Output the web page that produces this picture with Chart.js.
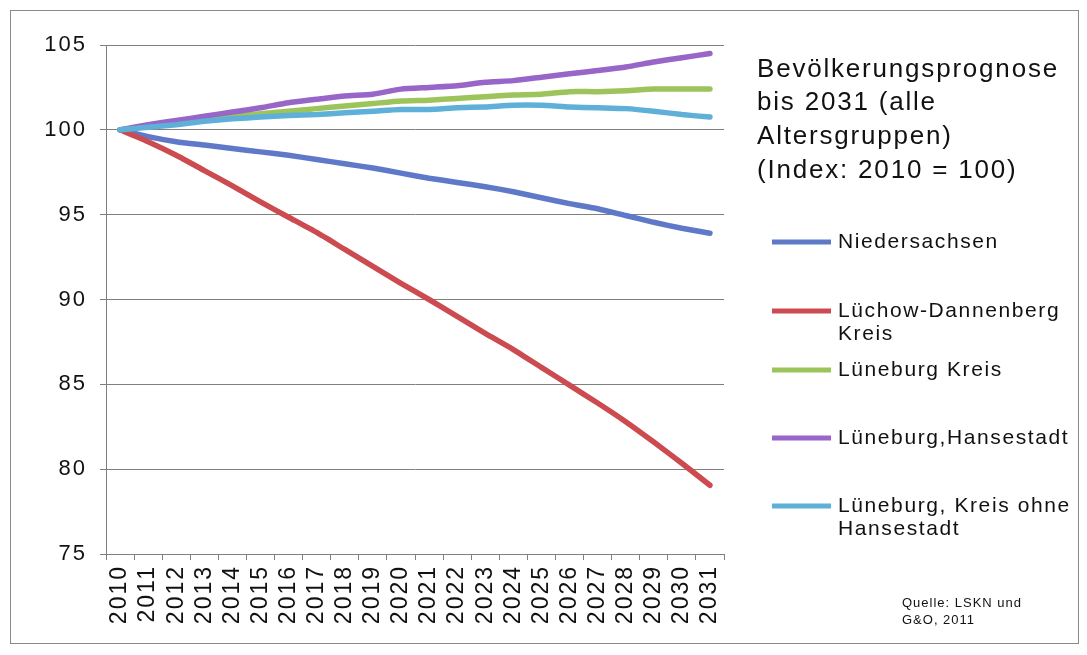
<!DOCTYPE html>
<html>
<head>
<meta charset="utf-8">
<script src="https://cdn.jsdelivr.net/npm/chart.js@4/dist/chart.umd.min.js"></script>
<style>
  html, body { margin: 0; padding: 0; background: #ffffff; }
  #wrap { width: 1087px; height: 655px; position: relative; }
  canvas { display: block; }
</style>
</head>
<body>
<div id="wrap"><canvas id="chart" width="1087" height="655"></canvas></div>
<script>
// Jahre der Prognose
const years = ['2010','2011','2012','2013','2014','2015','2016','2017','2018','2019','2020',
               '2021','2022','2023','2024','2025','2026','2027','2028','2029','2030','2031'];

// Index-Werte (2010 = 100)
const niedersachsen = [100, 99.6, 99.3, 99.1, 98.9, 98.7, 98.5, 98.25, 98.0, 97.75, 97.45,
                       97.15, 96.9, 96.65, 96.35, 96.0, 95.65, 95.35, 94.95, 94.55, 94.2, 93.9];
const luechowDannenberg = [100, 99.3, 98.5, 97.6, 96.7, 95.75, 94.85, 93.95, 92.95, 91.95, 90.95,
                           90.0, 89.0, 88.0, 87.05, 86.0, 84.95, 83.9, 82.8, 81.6, 80.35, 79.05];
const lueneburgKreis = [100, 100.2, 100.4, 100.6, 100.8, 100.95, 101.1, 101.25, 101.4, 101.55, 101.7,
                        101.75, 101.85, 101.95, 102.05, 102.1, 102.25, 102.25, 102.3, 102.4, 102.4, 102.4];
const lueneburgHansestadt = [100, 100.3, 100.55, 100.8, 101.05, 101.3, 101.6, 101.8, 102.0, 102.1, 102.4,
                             102.5, 102.6, 102.8, 102.9, 103.1, 103.3, 103.5, 103.7, 104.0, 104.25, 104.5];
const lueneburgOhneStadt = [100, 100.15, 100.3, 100.5, 100.65, 100.75, 100.85, 100.9, 101.0, 101.1, 101.2,
                            101.2, 101.3, 101.35, 101.45, 101.45, 101.35, 101.3, 101.25, 101.1, 100.9, 100.75];

// Beschriftungen
const seriesNames = ['Niedersachsen', 'Lüchow-Dannenberg Kreis', 'Lüneburg Kreis',
                     'Lüneburg,Hansestadt', 'Lüneburg, Kreis ohne Hansestadt'];
const legendLines = [['Niedersachsen'], ['Lüchow-Dannenberg', 'Kreis'], ['Lüneburg Kreis'],
                     ['Lüneburg,Hansestadt'], ['Lüneburg, Kreis ohne', 'Hansestadt']];
const seriesColors = ['#5f79c8', '#cc4b50', '#9cc45a', '#9865c8', '#5eb0d8'];
const titleLines = ['Bevölkerungsprognose', 'bis 2031 (alle', 'Altersgruppen)', '(Index: 2010 = 100)'];
const sourceLines = ['Quelle: LSKN und', 'G&O, 2011'];
const yTicks = { min: 75, max: 105, step: 5 };

const seriesValues = [niedersachsen, luechowDannenberg, lueneburgKreis, lueneburgHansestadt, lueneburgOhneStadt];

const FONT = '"Liberation Sans", Arial, sans-serif';

// gesperrte Schrift wie im Original
const spacingPlugin = {
  id: 'spacing',
  beforeLayout(chart) { chart.ctx.letterSpacing = '2px'; },
  beforeDraw(chart) { chart.ctx.letterSpacing = '2px'; }
};

// Rahmen um das Diagramm
const framePlugin = {
  id: 'frame',
  beforeDraw(chart) {
    const ctx = chart.ctx;
    ctx.save();
    ctx.fillStyle = '#ffffff';
    ctx.fillRect(0, 0, chart.width, chart.height);
    ctx.strokeStyle = '#8a8a8a';
    ctx.lineWidth = 1;
    ctx.strokeRect(10.5, 10.5, 1068, 633);
    ctx.restore();
  }
};

// Titel, Legende und Quellenangabe rechts
const sidePlugin = {
  id: 'side',
  afterDraw(chart) {
    const ctx = chart.ctx;
    ctx.save();
    ctx.fillStyle = '#111111';
    ctx.textAlign = 'left';
    ctx.textBaseline = 'middle';

    ctx.font = '26px ' + FONT;
    ctx.letterSpacing = '1.8px';
    const titleY = [70, 103, 137, 171];
    titleLines.forEach((t, i) => ctx.fillText(t, 757, titleY[i]));

    const legendY = [242, 311, 370, 438, 506];
    ctx.font = '21px ' + FONT;
    ctx.letterSpacing = '1.6px';
    chart.data.datasets.forEach((ds, i) => {
      const y = legendY[i];
      ctx.strokeStyle = ds.borderColor;
      ctx.lineWidth = 5;
      ctx.lineCap = 'butt';
      ctx.beginPath();
      ctx.moveTo(772, y);
      ctx.lineTo(831, y);
      ctx.stroke();
      legendLines[i].forEach((line, j) => ctx.fillText(line, 838, y + j * 23));
    });

    ctx.font = '13px ' + FONT;
    ctx.letterSpacing = '1px';
    ctx.fillText(sourceLines[0], 902, 603);
    ctx.fillText(sourceLines[1], 902, 620);
    ctx.restore();
  }
};

new Chart(document.getElementById('chart'), {
  type: 'line',
  data: {
    labels: years,
    datasets: seriesValues.map((vals, i) => ({
      label: seriesNames[i],
      data: vals,
      borderColor: seriesColors[i],
      backgroundColor: seriesColors[i],
      borderWidth: 5.5,
      pointRadius: 0,
      tension: 0.2,
      borderCapStyle: 'round',
      borderJoinStyle: 'round',
      order: seriesValues.length - i
    }))
  },
  options: {
    responsive: false,
    animation: false,
    devicePixelRatio: 1,
    layout: { padding: { left: 0, right: 363, top: 45, bottom: 0 } },
    plugins: {
      legend: { display: false },
      tooltip: { enabled: false },
      title: { display: false }
    },
    scales: {
      x: {
        offset: true,
        grid: {
          offset: true,
          drawOnChartArea: false,
          drawTicks: true,
          tickLength: 6,
          color: '#808080'
        },
        border: { display: true, color: '#808080', width: 1 },
        ticks: {
          autoSkip: false,
          maxRotation: 90,
          minRotation: 90,
          padding: 5,
          color: '#111111',
          font: { family: FONT, size: 23 }
        },
        afterFit(scale) { scale.height = 101; }
      },
      y: {
        min: yTicks.min,
        max: yTicks.max,
        grid: {
          color: '#808080',
          lineWidth: 1,
          drawTicks: true,
          tickLength: 6
        },
        border: { display: true, color: '#808080', width: 1 },
        ticks: {
          stepSize: yTicks.step,
          padding: 13,
          color: '#111111',
          font: { family: FONT, size: 22 }
        },
        afterFit(scale) { scale.width = 106; }
      }
    }
  },
  plugins: [spacingPlugin, framePlugin, sidePlugin]
});
</script>
</body>
</html>
